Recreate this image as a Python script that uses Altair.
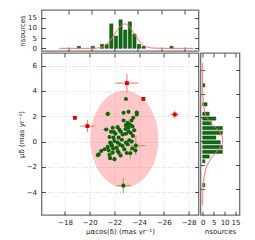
import altair as alt
import numpy as np
import pandas as pd

# ---------------- data ----------------
green_x = [-22.93, -21.46, -22.74, -23.14, -23.80, -23.81, -23.52, -23.38, -22.74, -23.06,
           -23.25, -22.93, -23.46, -23.14, -21.33, -21.86, -22.26, -22.40, -21.73, -22.08,
           -22.66, -22.93, -23.33, -23.60, -23.15, -21.60, -21.92, -22.34, -22.60, -23.50,
           -23.20, -22.00, -21.65, -22.26, -22.93, -23.73, -21.46, -21.81, -22.18, -22.66,
           -23.06, -20.93, -20.74, -20.66, -21.54, -21.86, -22.26, -22.80, -23.28, -23.70,
           -23.45, -21.60, -21.65, -22.00, -22.34, -22.50, -21.20, -21.90, -22.72, -23.00,
           -23.40, -22.50, -21.95, -22.45, -22.90, -21.75]
green_y = [3.37, 2.19, 2.27, 2.35, 2.30, 2.14, 1.88, 1.67, 1.67, 1.48,
           1.35, 1.30, 1.20, 1.09, 0.96, 1.09, 1.14, 0.93, 0.78, 0.62,
           0.57, 0.62, 0.67, 0.90, 0.80, 0.36, 0.31, 0.31, 0.15, 0.45,
           0.10, 0.05, -0.08, -0.08, -0.08, -0.32, -0.42, -0.35, -0.48, -0.35,
           -0.21, -0.74, -1.00, -1.07, -0.69, -0.87, -0.74, -0.61, -0.92, -0.70,
           -0.55, -1.05, -1.31, -1.39, -0.87, -1.10, -0.60, -0.55, -3.48, -0.90,
           0.00, 0.80, 0.75, -0.25, 1.00, -0.20]
green_ex = [0.10, 0.25, 0.10, 0.10, 0.10, 0.10, 0.10, 0.10, 0.10, 0.10,
            0.10, 0.10, 0.10, 0.10, 0.30, 0.10, 0.10, 0.10, 0.10, 0.10,
            0.10, 0.10, 0.10, 0.10, 0.10, 0.10, 0.10, 0.10, 0.10, 0.10,
            0.10, 0.10, 0.10, 0.10, 0.10, 0.80, 0.10, 0.10, 0.10, 0.10,
            0.10, 0.10, 0.10, 0.10, 0.10, 0.10, 0.10, 0.10, 0.20, 0.10,
            0.10, 0.10, 0.10, 0.10, 0.10, 0.10, 0.10, 0.10, 0.60, 0.10,
            0.10, 0.10, 0.10, 0.10, 0.10, 0.10]
green_ey = [0.10, 0.20, 0.10, 0.10, 0.10, 0.10, 0.10, 0.10, 0.10, 0.10,
            0.10, 0.10, 0.10, 0.10, 0.12, 0.10, 0.10, 0.10, 0.10, 0.10,
            0.10, 0.10, 0.10, 0.10, 0.10, 0.10, 0.10, 0.10, 0.10, 0.10,
            0.10, 0.10, 0.10, 0.10, 0.10, 0.75, 0.10, 0.10, 0.10, 0.10,
            0.10, 0.10, 0.10, 0.10, 0.10, 0.10, 0.10, 0.10, 0.45, 0.10,
            0.10, 0.10, 0.10, 0.10, 0.10, 0.10, 0.10, 0.10, 0.60, 0.10,
            0.10, 0.10, 0.10, 0.10, 0.10, 0.10]

red_x = [-18.80, -19.81, -23.01, -24.34, -26.88]
red_y = [1.88, 1.22, 4.62, 3.37, 2.14]
red_ex = [0.08, 0.59, 0.92, 0.10, 0.35]
red_ey = [0.08, 0.48, 0.73, 0.10, 0.31]

# histogram of mu_alpha cos(delta)
histx_center = [-18.9, -20.1, -20.9, -21.3, -21.7, -22.1, -22.5, -22.9, -23.3, -23.7, -24.1, -24.5, -26.9]
histx_count = [1, 1, 2, 2, 12, 6, 14, 9, 13, 7, 2, 1, 1]
# histogram of mu_delta
histy_center = [4.7, 3.1, 2.3, 1.9, 1.5, 1.1, 0.7, 0.3, -0.1, -0.5, -0.9, -1.3, -1.7, -3.7]
histy_count = [1, 2, 3, 6, 4, 9, 9, 6, 8, 9, 9, 3, 1, 1]

# fitted curves
curvex_x = [-17.2, -19.5, -20.4, -20.8, -21.4, -21.8, -22.2, -22.6, -22.85, -23.2, -23.6, -24.0, -24.4, -24.8, -25.4, -26.5, -28.8]
curvex_n = [0.0, 0.0, 0.1, 0.4, 2.4, 5.3, 8.8, 11.4, 12.0, 11.1, 7.9, 4.5, 1.9, 0.6, 0.1, 0.0, 0.0]
curvey_y = [6.6, 4.2, 3.2, 2.6, 2.1, 1.35, 0.83, 0.31, -0.21, -0.74, -1.26, -1.78, -2.31, -3.09, -4.13, -5.4]
curvey_n = [0.0, 0.0, 0.3, 0.8, 1.5, 4.5, 7.6, 8.9, 8.9, 7.1, 4.6, 2.8, 1.5, 0.6, 0.1, 0.0]

ellipse_center = (-22.8, 0.2)
ellipse_radii = (2.75, 3.82)

X_DOMAIN = [-16.1, -28.8]
Y_DOMAIN = [-5.8, 7.0]
NX_DOMAIN = [-1.0, 16.8]
NY_DOMAIN = [-1.3, 18.8]
X_TICKS = [-18, -20, -22, -24, -26, -28]
Y_TICKS = [-4, -2, 0, 2, 4, 6]
N_TICKS = [0, 5, 10, 15]

GREEN = "#0b650b"
RED = "#d40000"
CURVE = "#ff6e6e"
FONT = "DejaVu Sans"

# ---------------- tables ----------------
g = pd.DataFrame({"x": green_x, "y": green_y, "ex": green_ex, "ey": green_ey})
g["x0"], g["x1"] = g.x - g.ex, g.x + g.ex
g["y0"], g["y1"] = g.y - g.ey, g.y + g.ey
r = pd.DataFrame({"x": red_x, "y": red_y, "ex": red_ex, "ey": red_ey})
r["x0"], r["x1"] = r.x - r.ex, r.x + r.ex
r["y0"], r["y1"] = r.y - r.ey, r.y + r.ey

t = np.linspace(0, np.pi, 121)
ell = pd.DataFrame({
    "x": ellipse_center[0] + ellipse_radii[0] * np.cos(t),
    "yt": ellipse_center[1] + ellipse_radii[1] * np.sin(t),
    "yb": ellipse_center[1] - ellipse_radii[1] * np.sin(t),
})

hx = pd.DataFrame({"x": histx_center, "n": histx_count})
hy = pd.DataFrame({"y": histy_center, "n": histy_count})
cx = pd.DataFrame({"x": curvex_x, "n": curvex_n})
cy = pd.DataFrame({"y": curvey_y, "n": curvey_n})


def ax(orient, values, labels=True, title="", pad=3):
    kw = dict(orient=orient, values=values, labels=labels, grid=False,
              domain=False, ticks=True, tickSize=4, offset=-4, tickColor="#222",
              tickWidth=0.8, labelPadding=pad, labelColor="#222", labelFont=FONT,
              labelFontSize=7, titleFont=FONT, titleFontSize=7, titleFontWeight="normal",
              titleColor="#222", titlePadding=2)
    kw["title"] = title if title else None
    if not labels:
        kw.update(minExtent=0, maxExtent=0)
    return alt.Axis(**kw)


def grid_ax(orient, values):
    return alt.Axis(orient=orient, values=values, labels=False, ticks=False, domain=False,
                    grid=True, gridColor="#c4c4c4", gridDash=[1, 2], gridWidth=0.7,
                    title=None, minExtent=0, maxExtent=0)


xs = alt.Scale(domain=X_DOMAIN, nice=False, zero=False)
ys = alt.Scale(domain=Y_DOMAIN, nice=False, zero=False)
nxs = alt.Scale(domain=NX_DOMAIN, nice=False, zero=False)
nys = alt.Scale(domain=NY_DOMAIN, nice=False, zero=False)

MAIN_W, MAIN_H, SIDE_W, TOP_H = 157, 162, 39, 41

# ---------------- main panel ----------------
grid_layer = alt.Chart(r).mark_point(opacity=0, size=0).encode(
    x=alt.X("x:Q", scale=xs, axis=grid_ax("bottom", X_TICKS)),
    y=alt.Y("y:Q", scale=ys, axis=grid_ax("left", Y_TICKS)))
ellipse = alt.Chart(ell).mark_area(color="#ff0000", opacity=0.22).encode(
    x=alt.X("x:Q", scale=xs, axis=ax("bottom", X_TICKS, True, "μαcos(δ) (mas yr⁻¹)")),
    y=alt.Y("yt:Q", scale=ys, axis=ax("left", Y_TICKS, True, "μδ (mas yr⁻¹)", pad=5)),
    y2="yb:Q",
)
g_eh = alt.Chart(g).mark_rule(color="#a89a5a", strokeWidth=1).encode(
    x=alt.X("x0:Q", scale=xs, axis=None), x2="x1:Q", y=alt.Y("y:Q", scale=ys, axis=None))
g_ev = alt.Chart(g).mark_rule(color="#a89a5a", strokeWidth=1).encode(
    x=alt.X("x:Q", scale=xs, axis=None), y=alt.Y("y0:Q", scale=ys, axis=None), y2="y1:Q")
g_pts = alt.Chart(g).mark_circle(color=GREEN, opacity=1, size=17).encode(
    x=alt.X("x:Q", scale=xs, axis=None), y=alt.Y("y:Q", scale=ys, axis=None))
r_eh = alt.Chart(r).mark_rule(color="#f07070", strokeWidth=1).encode(
    x=alt.X("x0:Q", scale=xs, axis=None), x2="x1:Q", y=alt.Y("y:Q", scale=ys, axis=None))
r_ev = alt.Chart(r).mark_rule(color="#f07070", strokeWidth=1).encode(
    x=alt.X("x:Q", scale=xs, axis=None), y=alt.Y("y0:Q", scale=ys, axis=None), y2="y1:Q")
r_pts = alt.Chart(r).mark_square(color=RED, opacity=1, size=15).encode(
    x=alt.X("x:Q", scale=xs, axis=None), y=alt.Y("y:Q", scale=ys, axis=None))
main_mirror = alt.Chart(r).mark_point(opacity=0, size=0).encode(
    x=alt.X("x:Q", scale=xs, axis=ax("top", X_TICKS, False)),
    y=alt.Y("y:Q", scale=ys, axis=ax("right", Y_TICKS, False)))

main = alt.layer(grid_layer, ellipse, g_eh, g_ev, g_pts, r_eh, r_ev, r_pts, main_mirror).resolve_axis(
    x="independent", y="independent").properties(width=MAIN_W, height=MAIN_H)

# ---------------- top histogram ----------------
top_bars = alt.Chart(hx).mark_bar(orient="vertical", size=3.2, color="#0e6e0e",
                                  stroke="#083d08", strokeWidth=0.5).encode(
    x=alt.X("x:Q", scale=xs, axis=ax("bottom", X_TICKS, False)),
    y=alt.Y("n:Q", scale=nys, axis=ax("left", N_TICKS, True, "nsources", pad=5)))
top_curve = alt.Chart(cx).mark_line(color=CURVE, strokeWidth=1, interpolate="monotone").encode(
    x=alt.X("x:Q", scale=xs, axis=None), y=alt.Y("n:Q", scale=nys, axis=None))
top_mirror = alt.Chart(hx).mark_point(opacity=0, size=0).encode(
    x=alt.X("x:Q", scale=xs, axis=ax("top", X_TICKS, False)),
    y=alt.Y("n:Q", scale=nys, axis=ax("right", N_TICKS, False)))
top = alt.layer(top_bars, top_curve, top_mirror).resolve_axis(
    x="independent", y="independent").properties(width=MAIN_W, height=TOP_H)

# ---------------- right histogram ----------------
right_bars = alt.Chart(hy).mark_bar(orient="horizontal", size=3.2, color="#0e6e0e",
                                    stroke="#083d08", strokeWidth=0.5).encode(
    x=alt.X("n:Q", scale=nxs, axis=ax("bottom", N_TICKS, True, "nsources")),
    y=alt.Y("y:Q", scale=ys, axis=ax("left", Y_TICKS, False)))
right_curve = alt.Chart(cy).mark_line(color=CURVE, strokeWidth=1, interpolate="catmull-rom").encode(
    x=alt.X("n:Q", scale=nxs, axis=None), y=alt.Y("y:Q", scale=ys, axis=None), order="y:Q")
right_mirror = alt.Chart(hy).mark_point(opacity=0, size=0).encode(
    x=alt.X("n:Q", scale=nxs, axis=ax("top", N_TICKS, False)),
    y=alt.Y("y:Q", scale=ys, axis=ax("right", Y_TICKS, False)))
right = alt.layer(right_bars, right_curve, right_mirror).resolve_axis(
    x="independent", y="independent").properties(width=SIDE_W, height=MAIN_H)

# ---------------- blank corner ----------------
blank = alt.Chart(pd.DataFrame({"a": [0]})).mark_point(opacity=0, size=0).encode(
    x=alt.X("a:Q", axis=None, scale=alt.Scale(domain=[-1, 1])),
    y=alt.Y("a:Q", axis=None, scale=alt.Scale(domain=[-1, 1]))).properties(
    width=SIDE_W, height=TOP_H, view=alt.ViewBackground(stroke="transparent"))

chart = alt.concat(top, blank, main, right, columns=2,
                   spacing=alt.RowColnumber(row=-4, column=-3), align="each",
                   bounds="full").properties(
    padding={"left": 8.5, "top": 0, "right": 0, "bottom": 0}
).configure_view(stroke="#707070", strokeWidth=1.3)

chart.save("out.html", embed_options={"renderer": "svg", "actions": False})
